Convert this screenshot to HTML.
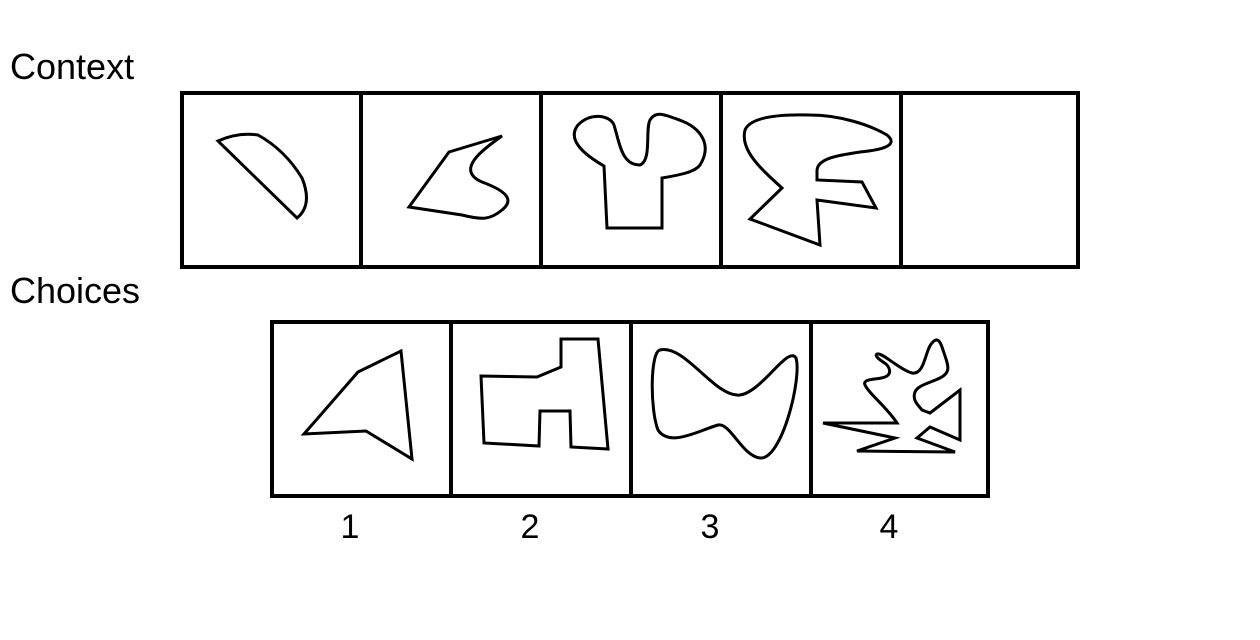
<!DOCTYPE html>
<html><head><meta charset="utf-8"><style>
html,body{margin:0;padding:0;background:#fff;width:1260px;height:640px;overflow:hidden}
svg text{font-family:"Liberation Sans",Arial,sans-serif;fill:#000}
</style></head><body>
<svg width="1260" height="640" viewBox="0 0 1260 640" xmlns="http://www.w3.org/2000/svg">
<text x="10" y="79" font-size="36">Context</text>
<text x="10" y="303" font-size="36">Choices</text>
<g fill="none" stroke="#000" stroke-width="4">
<rect x="182" y="93" width="896" height="174"/>
<line x1="361" y1="93" x2="361" y2="267"/><line x1="541" y1="93" x2="541" y2="267"/>
<line x1="721" y1="93" x2="721" y2="267"/><line x1="901" y1="93" x2="901" y2="267"/>
</g>
<g fill="none" stroke="#000" stroke-width="3" stroke-linejoin="miter">
<path d="M218,141 Q238,132 258,135 Q285,150 302,178 Q313,205 297,218 Z"/>
<path d="M409,207 L449,152 L502,136 C482,150 455,170 482,182 C512,193 512,202 502,210 C490,220 482,220 462,215 Z"/>
<path d="M604,166 C585,155 566,140 578,125 C590,112 610,115 614,125 C620,145 622,165 640,165 C652,160 645,130 650,120 C656,110 666,115 682,121 C702,129 712,146 700,165 C695,172 680,175 662,178 L662,228 L607,228 Z"/>
<path d="M782,188 C760,168 740,150 745,130 C750,118 775,114 810,115 C840,115 870,125 887,135 C900,146 880,150 860,152 C840,155 818,158 817,170 L817,180 L862,182 L876,208 L817,200 L820,245 L750,219 Z"/>
</g>
<g fill="none" stroke="#000" stroke-width="4">
<rect x="272" y="322" width="716" height="174"/>
<line x1="451" y1="322" x2="451" y2="496"/><line x1="631" y1="322" x2="631" y2="496"/><line x1="811" y1="322" x2="811" y2="496"/>
</g>
<g fill="none" stroke="#000" stroke-width="3">
<path d="M304,434 L358,372 L401,351 L412,459 L366,431 Z"/>
<path d="M481,376 L537,377 L561,367 L561,339 L598,339 L608,449 L571,447 L570,411 L540,411 L539,446 L484,443 Z"/>
<path d="M660,350 C685,344 715,398 740,395 C762,392 788,345 796,358 C802,378 782,460 760,458 C742,456 730,422 718,425 C700,430 670,448 658,430 C650,410 650,352 660,350 Z"/>
<path d="M823,423 L897,423 C885,405 870,395 865,385 C862,378 878,380 885,377 C892,374 890,368 886,364 C880,360 874,356 877,354 C882,352 900,370 912,373 C925,375 925,350 932,343 C937,337 940,340 943,350 C948,365 952,372 940,378 C930,383 918,385 915,392 C912,400 918,405 922,410 L930,413 L960,390 L960,440 L930,427 L917,438 L955,452 L857,451 L895,438 Z"/>
</g>
<g font-size="34" text-anchor="middle">
<text x="350" y="538">1</text>
<text x="530" y="538">2</text>
<text x="710" y="538">3</text>
<text x="889" y="538">4</text>
</g>
</svg>
</body></html>
